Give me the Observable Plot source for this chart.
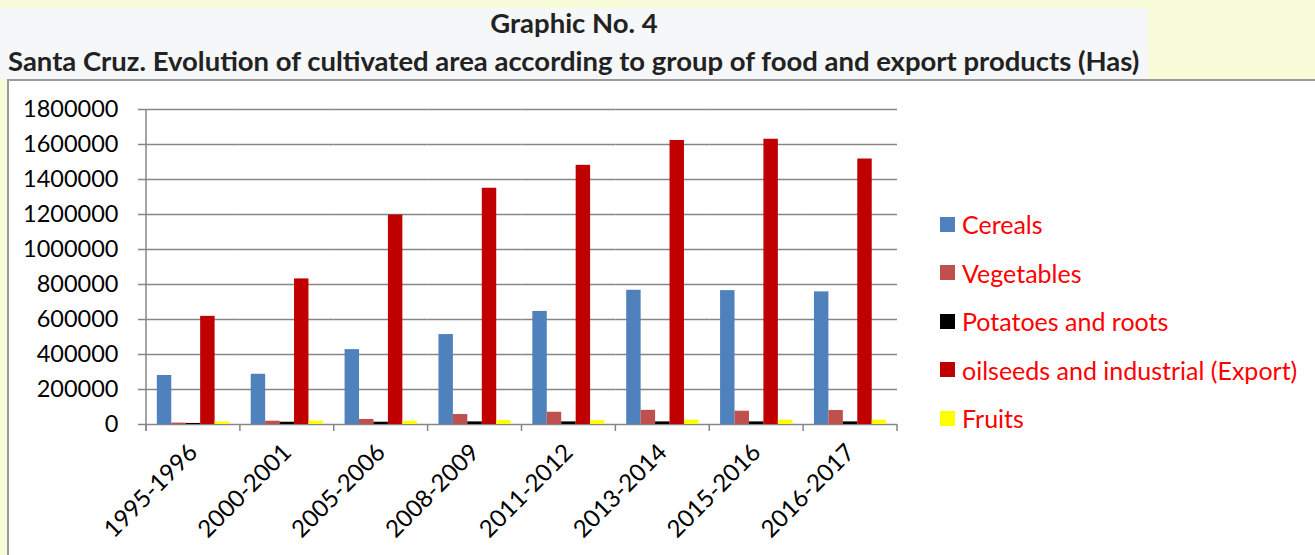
<!DOCTYPE html>
<html>
<head>
<meta charset="utf-8">
<script src="https://cdn.jsdelivr.net/npm/d3@7"></script>
<script src="https://cdn.jsdelivr.net/npm/@observablehq/plot@0.6"></script>
<style>
  body { margin:0; width:1315px; height:555px; overflow:hidden; position:relative; background:#f9fcd8; font-family: Lato, "Open Sans", sans-serif; }
  #titlebox { position:absolute; left:0; top:8px; width:1148px; height:71px; background:#f6f7f9; }
  #t1 { position:absolute; left:0; width:1148px; top:-2px; text-align:center; font-weight:bold; font-size:27px; color:#222; }
  #t2 { position:absolute; left:8px; top:36px; font-weight:bold; font-size:27px; color:#222; white-space:nowrap; }
  #chartbox { position:absolute; left:7px; top:79px; width:1320px; height:500px; background:#fff; border-top:2px solid #9a9a9a; border-left:2px solid #9a9a9a; }
  #chart { position:absolute; left:0; top:0; }
  #legend { position:absolute; left:931px; top:119px; }
  .item { height:48.5px; display:flex; align-items:center; font-size:25px; color:#ff0000; }
  .sw { width:15px; height:15px; margin-right:7px; }
</style>
</head>
<body>
<div id="titlebox">
  <div id="t1">Graphic No. 4</div>
  <div id="t2">Santa Cruz. Evolution of cultivated area according to group of food and export products (Has)</div>
</div>
<div id="chartbox">
  <div id="chart"></div>
  <div id="legend"></div>
</div>
<script>
const years = ["1995-1996","2000-2001","2005-2006","2008-2009","2011-2012","2013-2014","2015-2016","2016-2017"];
const series = ["Cereals","Vegetables","Potatoes and roots","oilseeds and industrial (Export)","Fruits"];
const colors = ["#4f81bd","#c0504d","#000000","#c00000","#ffff00"];
const cereals = [280000,287000,428000,514000,646000,767000,765000,758000];
const vegetables = [8000,19000,29000,57000,70000,81000,76000,80000];
const potatoes = [6000,13000,13000,15000,15000,15000,15000,15000];
const oilseeds = [618000,832000,1197000,1350000,1481000,1623000,1630000,1517000];
const fruits = [15000,19000,19000,23000,22000,25000,25000,25000];
const yTicks = [0,200000,400000,600000,800000,1000000,1200000,1400000,1600000,1800000];

const valuesBySeries = [cereals, vegetables, potatoes, oilseeds, fruits];
const data = [];
years.forEach((yr, i) => series.forEach((s, j) => data.push({year: yr, series: s, value: valuesBySeries[j][i]})));

const plot = Plot.plot({
  width: 900, height: 476,
  marginLeft: 137, marginRight: 12, marginTop: 28, marginBottom: 133,
  style: {fontFamily: "Lato, 'Open Sans', sans-serif", fontSize: "24px", color: "#000", background: "transparent", overflow: "visible"},
  fx: {domain: years, padding: 0, round: false, label: null, tickRotate: -45, tickSize: 0, tickPadding: 24},
  x: {domain: series, paddingInner: 0, paddingOuter: 0.75, round: false, axis: null},
  y: {domain: [0, 1800000], label: null, axis: null},
  color: {domain: series, range: colors},
  marks: [
    Plot.gridY(yTicks, {stroke: "#868686", strokeOpacity: 1, strokeWidth: 1.5}),
    Plot.axisY(yTicks, {tickSize: 8, tickPadding: 20, tickFormat: d3.format("d"), label: null, stroke: "#868686", strokeWidth: 1.5, fontSize: 23.5}),
    Plot.barY(data, {fx: "year", x: "series", y: "value", fill: "series"})
  ]
});
document.getElementById("chart").appendChild(plot);

// axis line and category boundary ticks, positioned via the plot's own scales
const fx = plot.scale("fx"), ys = plot.scale("y");
const svg = d3.select(plot);
const y0 = ys.apply(0), y1 = ys.apply(1800000);
const x0 = fx.apply(years[0]);
svg.append("line").attr("x1", x0).attr("x2", x0).attr("y1", y1).attr("y2", y0 + 7)
  .attr("stroke", "#868686").attr("stroke-width", 1.5);
const bounds = years.map(d => fx.apply(d)).concat([fx.apply(years[years.length-1]) + fx.bandwidth]);
bounds.forEach(b => svg.append("line").attr("x1", b).attr("x2", b).attr("y1", y0).attr("y2", y0 + 7)
  .attr("stroke", "#868686").attr("stroke-width", 1.5));

const legend = document.getElementById("legend");
series.forEach((s, i) => {
  const it = document.createElement("div"); it.className = "item";
  it.innerHTML = `<div class="sw" style="background:${colors[i]}"></div><span>${s}</span>`;
  legend.appendChild(it);
});

// fit the subtitle to the reference width
const t2 = document.getElementById("t2"), t1 = document.getElementById("t1");
const w = t2.getBoundingClientRect().width;
const fs = 27 * 1132 / w;
t2.style.fontSize = fs + "px"; t1.style.fontSize = fs + "px";
</script>
</body>
</html>
